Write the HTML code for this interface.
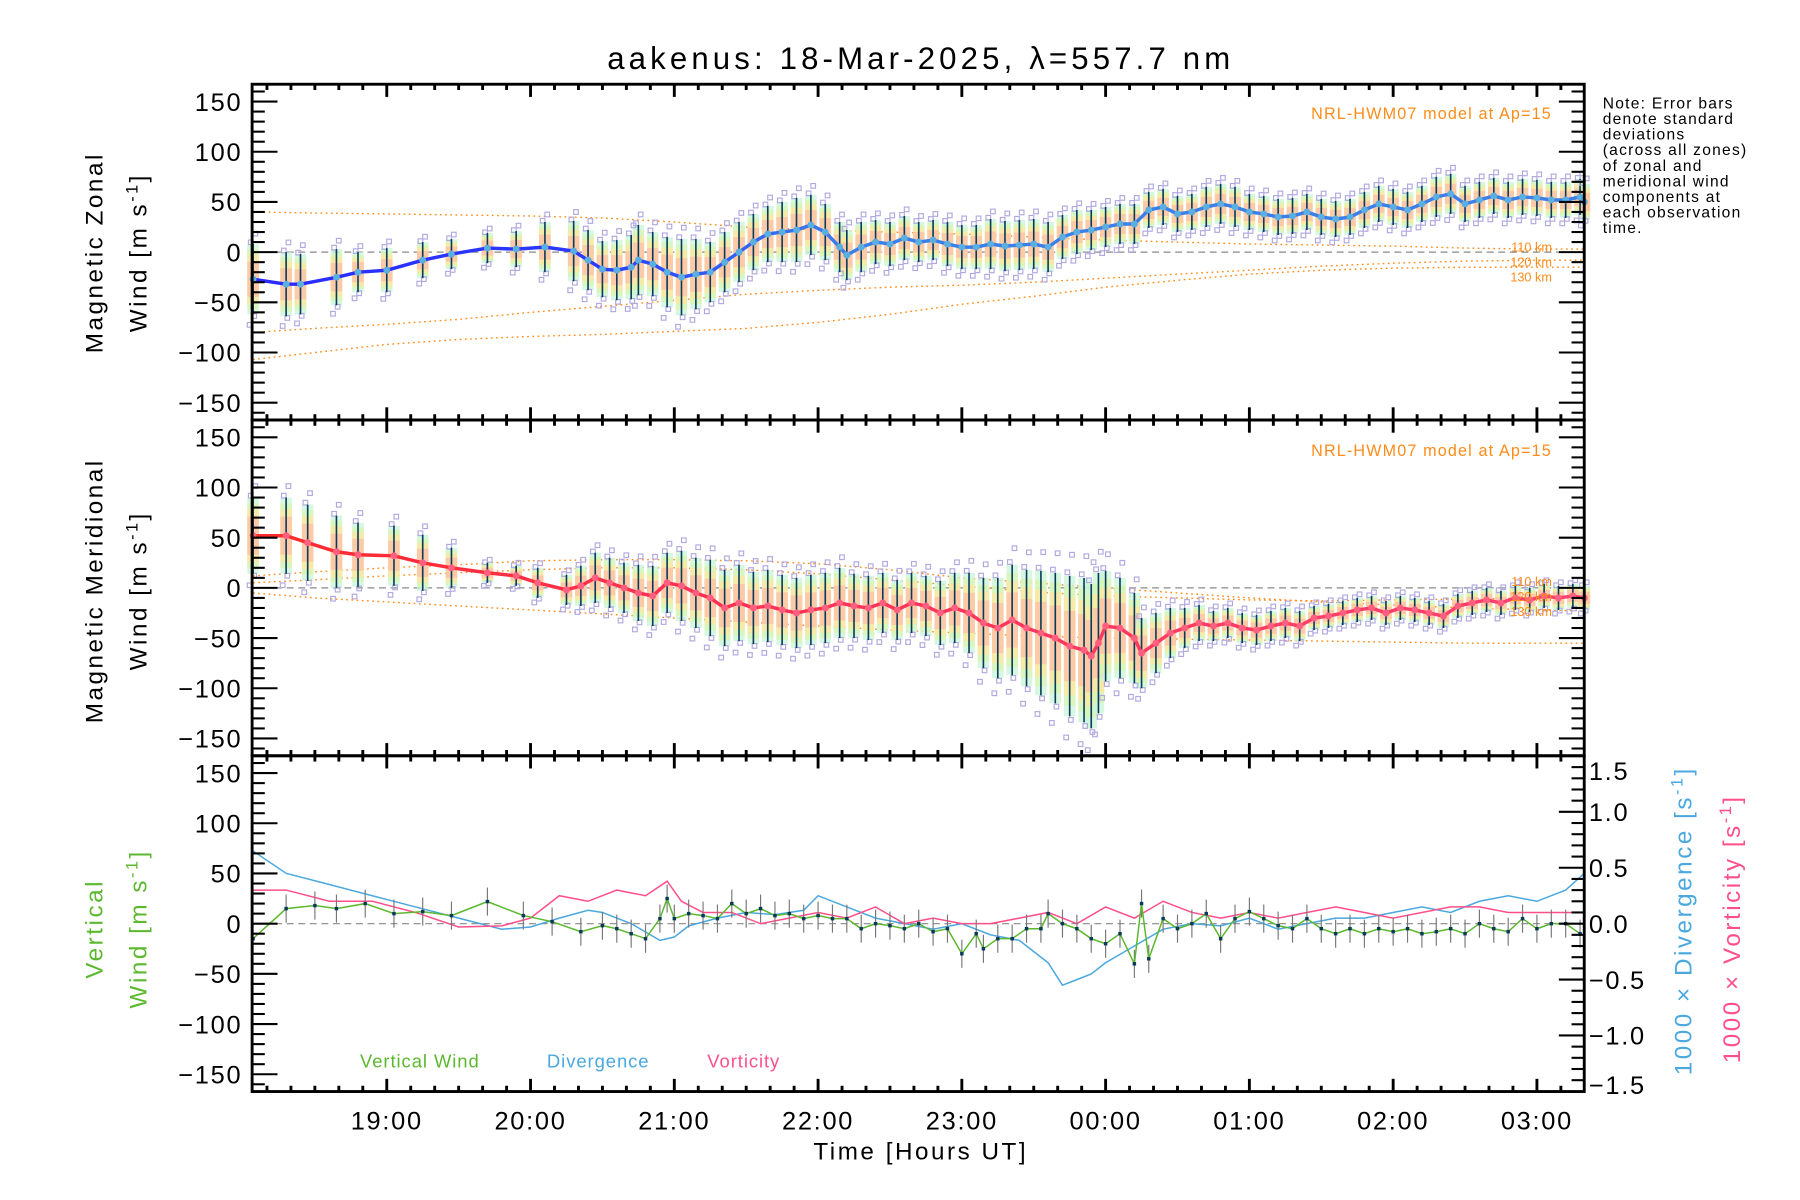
<!DOCTYPE html>
<html><head><meta charset="utf-8"><style>
html,body{margin:0;padding:0;background:#fff;}
svg{display:block;font-family:"Liberation Sans",sans-serif;}
</style></head><body>
<svg id="chart" width="1800" height="1200" viewBox="0 0 1560 1040" xmlns="http://www.w3.org/2000/svg">
<text x="798" y="60" font-size="27" letter-spacing="3.6" text-anchor="middle">aakenus: 18-Mar-2025, λ=557.7 nm</text>
<g id="marks"></g>
<g id="axes"></g>
<g font-size="13.5" letter-spacing="1.1" fill="#000">
<text x="1389" y="94">Note: Error bars</text>
<text x="1389" y="107.5">denote standard</text>
<text x="1389" y="121">deviations</text>
<text x="1389" y="134.5">(across all zones)</text>
<text x="1389" y="148">of zonal and</text>
<text x="1389" y="161.5">meridional wind</text>
<text x="1389" y="175">components at</text>
<text x="1389" y="188.5">each observation</text>
<text x="1389" y="202">time.</text>
</g>
<text x="1345" y="103" font-size="14" letter-spacing="1" fill="#ff8c1a" text-anchor="end">NRL-HWM07 model at Ap=15</text>
<text x="1345" y="395" font-size="14" letter-spacing="1" fill="#ff8c1a" text-anchor="end">NRL-HWM07 model at Ap=15</text>
<g font-size="11" fill="#ff8c1a" text-anchor="end">
<text x="1345" y="218">110 km</text><text x="1345" y="231">120 km</text><text x="1345" y="244">130 km</text>
<text x="1345" y="508">110 km</text><text x="1345" y="521">120 km</text><text x="1345" y="534">130 km</text>
</g>
<g font-size="21" letter-spacing="2.2" text-anchor="middle">
<text transform="translate(89,219) rotate(-90)">Magnetic Zonal</text>
<text transform="translate(127,219) rotate(-90)">Wind [m s<tspan font-size="14" dy="-8">-1</tspan><tspan dy="8">]</tspan></text>
<text transform="translate(89,512) rotate(-90)">Magnetic Meridional</text>
<text transform="translate(127,512) rotate(-90)">Wind [m s<tspan font-size="14" dy="-8">-1</tspan><tspan dy="8">]</tspan></text>
<text fill="#5cb82e" transform="translate(89,805) rotate(-90)">Vertical</text>
<text fill="#5cb82e" transform="translate(127,805) rotate(-90)">Wind [m s<tspan font-size="14" dy="-8">-1</tspan><tspan dy="8">]</tspan></text>
<text fill="#4aa8df" transform="translate(1466,798) rotate(-90)">1000 × Divergence [s<tspan font-size="14" dy="-8">-1</tspan><tspan dy="8">]</tspan></text>
<text fill="#ff4f8b" transform="translate(1508,805) rotate(-90)">1000 × Vorticity [s<tspan font-size="14" dy="-8">-1</tspan><tspan dy="8">]</tspan></text>
<text x="798" y="1005">Time [Hours UT]</text>
</g>
<g font-size="16" letter-spacing="0.8">
<text x="312" y="925" fill="#5cb82e">Vertical Wind</text>
<text x="474" y="925" fill="#4aa8df">Divergence</text>
<text x="613" y="925" fill="#ff4f8b">Vorticity</text>
</g>
</svg>
<script>
// ---- data ----
const zonalT=[18.07,18.3,18.4,18.65,18.8,19.0,19.25,19.45,19.7,19.9,20.1,20.3,20.4,20.5,20.6,20.7,20.75,20.85,20.95,21.05,21.15,21.25,21.35,21.45,21.55,21.65,21.75,21.85,21.95,22.05,22.15,22.2,22.3,22.4,22.5,22.6,22.7,22.8,22.9,23.0,23.1,23.2,23.3,23.4,23.5,23.6,23.7,23.8,23.9,24.0,24.1,24.2,24.3,24.4,24.5,24.6,24.7,24.8,24.9,25.0,25.1,25.2,25.3,25.4,25.5,25.6,25.7,25.8,25.9,26.0,26.1,26.2,26.3,26.4,26.5,26.6,26.7,26.8,26.9,27.0,27.1,27.2,27.3,27.33];
const zonalV=[-27,-32,-32,-25,-20,-18,-8,-2,4,3,5,1,-8,-17,-18,-15,-8,-12,-20,-25,-22,-20,-10,0,10,18,20,22,27,20,5,-3,5,10,8,14,10,12,8,5,5,8,6,7,8,5,15,20,22,25,28,28,42,45,38,40,45,48,45,40,38,35,36,40,35,33,35,42,48,45,42,48,55,58,48,52,56,52,55,54,52,52,55,50];
const zonalErr=[35,32,30,28,20,22,18,15,15,18,25,30,30,28,30,32,35,32,35,38,35,30,30,30,28,28,30,32,30,28,25,25,25,22,22,22,20,20,22,22,22,25,25,25,25,25,22,22,20,20,20,20,18,18,18,18,20,20,20,18,18,18,18,18,18,18,18,18,18,18,18,18,20,20,18,18,18,18,18,18,18,18,18,18];
const meridT=[18.07,18.3,18.45,18.65,18.8,19.05,19.25,19.45,19.7,19.9,20.05,20.25,20.35,20.45,20.55,20.65,20.75,20.85,20.95,21.05,21.15,21.25,21.35,21.45,21.55,21.65,21.75,21.85,21.95,22.05,22.15,22.25,22.35,22.45,22.55,22.65,22.75,22.85,22.95,23.05,23.15,23.25,23.35,23.45,23.55,23.65,23.75,23.85,23.9,23.95,24.0,24.1,24.2,24.25,24.35,24.45,24.55,24.65,24.75,24.85,24.95,25.05,25.15,25.25,25.35,25.45,25.55,25.65,25.75,25.85,25.95,26.05,26.15,26.25,26.35,26.45,26.55,26.65,26.75,26.85,26.95,27.05,27.15,27.25,27.33];
const meridV=[52,52,45,36,33,32,25,20,15,12,5,-2,2,10,5,0,-5,-8,5,2,-5,-10,-20,-15,-20,-18,-22,-25,-22,-20,-15,-18,-20,-15,-22,-15,-18,-25,-20,-25,-35,-40,-32,-40,-45,-50,-58,-62,-68,-55,-38,-40,-50,-65,-55,-45,-40,-35,-38,-35,-40,-42,-38,-35,-38,-30,-28,-25,-22,-20,-25,-20,-22,-25,-28,-18,-15,-12,-15,-10,-12,-8,-10,-8,-10];
const meridErr=[38,38,38,36,32,30,28,20,10,10,15,15,20,25,25,25,28,30,30,35,35,38,38,38,36,36,35,35,35,35,35,32,32,30,30,30,30,32,35,40,45,50,55,58,62,65,70,72,72,70,55,50,45,35,30,25,20,18,15,15,15,15,15,15,15,12,12,12,12,12,12,12,12,12,12,12,12,12,12,12,12,12,12,12,12];
const modelT=[18.07,18.5,19,19.5,20,20.5,21,21.5,22,22.5,23,23.5,24,24.5,25,25.5,26,26.5,27,27.33];
const zon110=[40,39,38,37,36,34,30,25,22,20,18,15,12,10,8,7,6,4,3,3];
const zon120=[-80,-76,-72,-67,-60,-54,-48,-42,-38,-35,-33,-30,-26,-22,-18,-14,-11,-9,-8,-8];
const zon130=[-107,-100,-92,-87,-84,-82,-79,-76,-70,-62,-52,-44,-35,-28,-22,-18,-16,-15,-15,-15];
const mer110=[12,16,20,23,27,28,28,27,24,18,10,5,0,-5,-10,-14,-17,-20,-22,-23];
const mer120=[5,8,12,15,18,20,20,18,14,8,2,-4,-8,-10,-12,-13,-12,-11,-10,-10];
const mer130=[-5,-10,-14,-18,-22,-26,-30,-34,-38,-42,-45,-48,-50,-51,-52,-53,-54,-55,-55,-55];
const vertT=[18.07,18.3,18.5,18.65,18.85,19.05,19.25,19.45,19.7,19.95,20.15,20.35,20.5,20.6,20.7,20.8,20.9,20.95,21.0,21.1,21.2,21.3,21.4,21.5,21.6,21.7,21.8,21.9,22.0,22.1,22.2,22.3,22.4,22.5,22.6,22.7,22.8,22.9,23.0,23.1,23.15,23.25,23.35,23.45,23.55,23.6,23.7,23.8,23.9,24.0,24.1,24.2,24.25,24.3,24.4,24.5,24.6,24.7,24.8,24.9,25.0,25.1,25.2,25.3,25.4,25.5,25.6,25.7,25.8,25.9,26.0,26.1,26.2,26.3,26.4,26.5,26.6,26.7,26.8,26.9,27.0,27.1,27.2,27.3];
const vertV=[-15,15,18,15,20,10,12,8,22,8,2,-8,-2,-5,-10,-15,5,25,5,10,8,5,20,10,15,8,10,5,8,5,5,-5,0,-2,-5,0,-8,-5,-30,-10,-25,-15,-15,-5,-5,10,0,-5,-15,-20,-10,-40,20,-35,5,-5,0,10,-15,5,12,5,-2,-5,5,-5,-10,-5,-10,-5,-8,-5,-10,-8,-5,-10,0,-5,-8,5,-5,0,0,-10];
const divT=[18.07,18.3,18.6,18.9,19.2,19.5,19.8,20.0,20.2,20.4,20.5,20.7,20.9,21.0,21.1,21.3,21.5,21.7,21.9,22.0,22.2,22.4,22.6,22.8,23.0,23.2,23.4,23.6,23.7,23.8,23.9,24.0,24.2,24.4,24.6,24.8,25.0,25.2,25.4,25.6,25.8,26.0,26.2,26.4,26.6,26.8,27.0,27.2,27.33];
const divV=[0.65,0.45,0.35,0.25,0.15,0.05,-0.05,-0.03,0.05,0.12,0.1,0.0,-0.15,-0.12,-0.02,0.05,0.1,0.08,0.12,0.25,0.15,0.05,0.0,-0.05,0.0,-0.1,-0.15,-0.35,-0.55,-0.5,-0.45,-0.35,-0.2,-0.05,0.0,-0.02,0.05,-0.05,0.0,0.05,0.05,0.1,0.15,0.1,0.2,0.25,0.2,0.3,0.45];
const vorT=[18.07,18.3,18.6,18.9,19.2,19.5,19.8,20.0,20.2,20.4,20.6,20.8,20.95,21.05,21.2,21.4,21.6,21.8,22.0,22.2,22.4,22.6,22.8,23.0,23.2,23.4,23.6,23.8,24.0,24.2,24.4,24.6,24.8,25.0,25.2,25.4,25.6,25.8,26.0,26.2,26.4,26.6,26.8,27.0,27.2,27.33];
const vorV=[0.3,0.3,0.2,0.2,0.1,-0.03,-0.02,0.05,0.25,0.2,0.3,0.25,0.38,0.2,0.1,0.1,0.0,0.05,0.1,0.05,0.15,0.0,0.05,0.0,0.0,0.05,0.1,0.0,0.15,0.05,0.2,0.1,0.05,0.1,0.05,0.1,0.15,0.1,0.05,0.1,0.15,0.15,0.1,0.1,0.1,0.1];
const windTicks=[150,100,50,0,-50,-100,-150];
const rightTicks=[1.5,1.0,0.5,0.0,-0.5,-1.0,-1.5];
const rightTickLabels=["1.5","1.0","0.5","0.0","\u22120.5","\u22121.0","\u22121.5"];
const timeTicks=[19,20,21,22,23,24,25,26,27];
const timeLabels=["19:00","20:00","21:00","22:00","23:00","00:00","01:00","02:00","03:00"];
// ---- scales ----
const X0=218.5,X1=1373;
const panels=[{top:73,bot:364,zero:218.5},{top:364,bot:655,zero:509.5},{top:655,bot:946,zero:800.5}];
const x=h=>335.2+(h-19)*124.6;
const y=(v,p)=>panels[p].zero-v*0.87;
const yR=r=>800.5-r*96.9;
const NS="http://www.w3.org/2000/svg";
const marks=document.getElementById('marks'),axes=document.getElementById('axes');
function mk(tag,attrs,parent){const e=document.createElementNS(NS,tag);for(const k in attrs)e.setAttribute(k,attrs[k]);parent.appendChild(e);return e;}
function poly(ts,vs,f){return ts.map((t,i)=>x(t).toFixed(1)+','+f(vs[i]).toFixed(1)).join(' ');}
for(let p=0;p<3;p++){const l=mk('line',{x1:X0,x2:X1,y1:y(0,p),y2:y(0,p),stroke:'#888','stroke-width':1,'stroke-dasharray':'6,4'},marks);

}
[[zon110,0],[zon120,0],[zon130,0],[mer110,1],[mer120,1],[mer130,1]].forEach(([arr,p])=>{
const l=mk('polyline',{points:poly(modelT,arr,v=>y(v,p)),fill:'none',stroke:'#ff8c1a','stroke-width':1.2,'stroke-dasharray':'1.5,3'},marks);

});
function bars(ts,vs,es,p,lineCol,dotCol,name){
const bands=[[1.0,'#c8f5d8'],[0.85,'#d8f5b0'],[0.7,'#ffe6a0'],[0.5,'#ffbfa8']];
ts.forEach((t,i)=>{const cx=x(t),v=vs[i],e=es[i];
bands.forEach(([f,c])=>{const r=mk('rect',{x:cx-5,y:y(v+e*f,p),width:10,height:e*2*f*0.87,fill:c,opacity:0.75},marks);

});});
ts.forEach((t,i)=>{const cx=x(t),v=vs[i],e=es[i];
[[1.05,-2],[-1.05,1],[1.3,2],[-1.3,-3]].forEach(([f,dx])=>{const s=mk('rect',{x:cx+dx-2,y:y(v+e*f,p)-2,width:4,height:4,fill:'none',stroke:'#b0a8e0','stroke-width':1},marks);

});
const b=mk('line',{x1:cx,x2:cx,y1:y(v+e,p),y2:y(v-e,p),stroke:'#0a3a5a','stroke-width':1.4},marks);

});
const g=mk('polyline',{points:poly(ts,vs,v=>y(v,p)),fill:'none',stroke:lineCol,'stroke-width':3},marks);


ts.forEach((t,i)=>{const c=mk('circle',{cx:x(t),cy:y(vs[i],p),r:3,fill:dotCol},marks);

});}
const defs=mk('defs',{},document.getElementById('chart'));
const gb=mk('linearGradient',{id:'gblue',x1:0,x2:1,y1:0,y2:0},defs);
mk('stop',{offset:'0','stop-color':'#2a2aff'},gb);mk('stop',{offset:'0.25','stop-color':'#2a3aff'},gb);mk('stop',{offset:'0.45','stop-color':'#3a80e8'},gb);mk('stop',{offset:'1','stop-color':'#3a80e8'},gb);
const gr=mk('linearGradient',{id:'gred',x1:0,x2:1,y1:0,y2:0},defs);
mk('stop',{offset:'0','stop-color':'#ff2a2a'},gr);mk('stop',{offset:'0.3','stop-color':'#ff3050'},gr);mk('stop',{offset:'1','stop-color':'#ff4070'},gr);
bars(zonalT,zonalV,zonalErr,0,'url(#gblue)','#5aaee0','zonal');
bars(meridT,meridV,meridErr,1,'url(#gred)','#ff6080','meridional');
const dv=mk('polyline',{points:poly(divT,divV,yR),fill:'none',stroke:'#4aa8df','stroke-width':1.3},marks);


const vo=mk('polyline',{points:poly(vorT,vorV,yR),fill:'none',stroke:'#ff4f8b','stroke-width':1.3},marks);


vertT.forEach((t,i)=>{const e=mk('line',{x1:x(t),x2:x(t),y1:y(vertV[i]+14,2),y2:y(vertV[i]-14,2),stroke:'#777','stroke-width':1},marks);

});
const vw=mk('polyline',{points:poly(vertT,vertV,v=>y(v,2)),fill:'none',stroke:'#5cb82e','stroke-width':1.3},marks);


vertT.forEach((t,i)=>{const c=mk('rect',{x:x(t)-1.5,y:y(vertV[i],2)-1.5,width:3,height:3,fill:'#0a3a5a'},marks);

});
for(let p=0;p<3;p++){const P=panels[p];
const f=mk('rect',{x:X0,y:P.top,width:X1-X0,height:P.bot-P.top,fill:'none',stroke:'#000','stroke-width':2.5},axes);


for(let v=-160;v<=160;v+=10){const yy=y(v,p);if(yy<P.top+1||yy>P.bot-1)continue;const L=(v%50===0)?22:11;
mk('line',{x1:X0,x2:X0+L,y1:yy,y2:yy,stroke:'#000','stroke-width':1.8},axes);
if(p<2)mk('line',{x1:X1,x2:X1-L,y1:yy,y2:yy,stroke:'#000','stroke-width':1.8},axes);}
windTicks.forEach(v=>{const t=mk('text',{x:210,y:y(v,p)+8,'font-size':22,'letter-spacing':1.5,'text-anchor':'end'},axes);t.textContent=v<0?'\u2212'+(-v):String(v);

});
for(let m=18*6+1;m<=27.33*6;m++){const xx=x(m/6);if(xx<X0+1||xx>X1-1)continue;const L=(m%6===0)?11:5;
mk('line',{x1:xx,x2:xx,y1:P.bot,y2:P.bot-L,stroke:'#000','stroke-width':2.5},axes);
mk('line',{x1:xx,x2:xx,y1:P.top,y2:P.top+L,stroke:'#000','stroke-width':2.5},axes);}}
for(let k=-15;k<=15;k++){const r=k/10;const yy=yR(r);if(yy<656||yy>945)continue;const maj=(k%5===0);
mk('line',{x1:X1,x2:X1-(maj?22:11),y1:yy,y2:yy,stroke:'#000','stroke-width':1.8},axes);}
rightTicks.forEach((r,i)=>{const t=mk('text',{x:1377,y:Math.min(Math.max(yR(r),668),940)+8,'font-size':22,'letter-spacing':1.5},axes);t.textContent=rightTickLabels[i];

});
timeTicks.forEach((h,i)=>{const t=mk('text',{x:x(h),y:979,'font-size':22,'letter-spacing':1.5,'text-anchor':'middle'},axes);t.textContent=timeLabels[i];

});
</script>
</body></html>
